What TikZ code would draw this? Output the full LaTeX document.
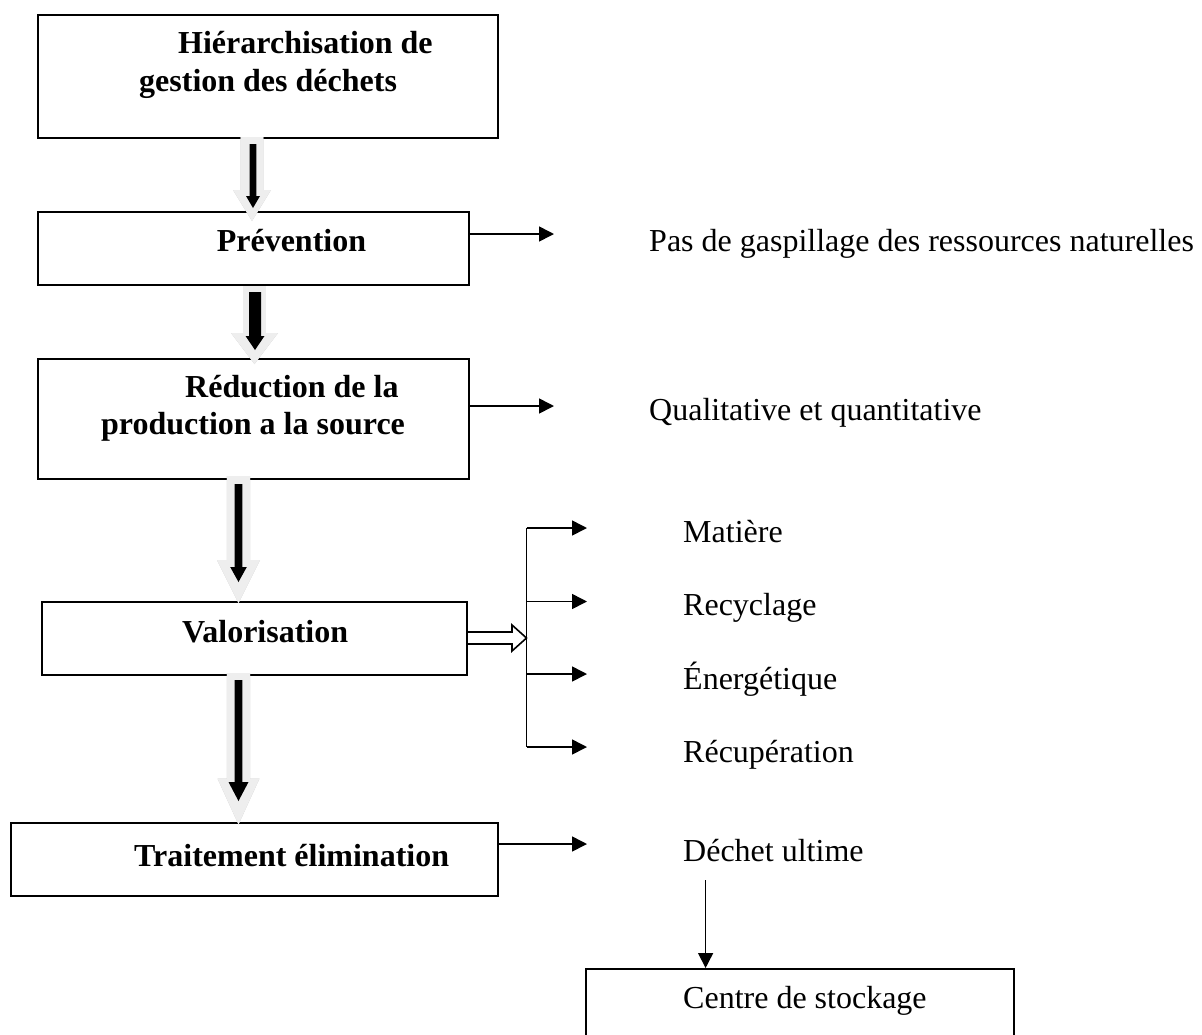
\documentclass[tikz,border=0pt]{standalone}
\usepackage{fontspec}
\setmainfont{Liberation Serif}
\usetikzlibrary{arrows.meta,calc}
\definecolor{lightblk}{HTML}{EEEEEE}
\definecolor{shadeblk}{HTML}{C4C4C4}
% #1 style, #2 top coord, #3 tip coord, #4 half shaft, #5 half head, #6 head length
\newcommand{\blkarrow}[6]{%
  \fill[#1] ($(#2)+(-#4,0)$) -- ($(#2)+(#4,0)$) -- ($(#3)+(#4,-#6)$) -- ($(#3)+(#5,-#6)$)
    -- (#3) -- ($(#3)+(-#5,-#6)$) -- ($(#3)+(-#4,-#6)$) -- cycle;}
\begin{document}
\begin{tikzpicture}[x=1pt,y=-1pt,
  box/.style={draw, line width=2pt, rectangle, anchor=north west, inner sep=0pt},
  lbl/.style={anchor=base west, inner sep=0pt, font=\fontsize{32}{38}\selectfont},
  blbl/.style={anchor=base west, inner sep=0pt, font=\fontsize{32}{38}\selectfont\bfseries},
  arr/.style={line width=1.6pt, -{Triangle[length=15pt,width=15pt]}},
  ln/.style={line width=1.6pt}]
\useasboundingbox (0,0) rectangle (1202,1034);
\clip (0,0) rectangle (1202,1034);

% boxes
\node[box, minimum width=460pt, minimum height=123pt] (b1) at (37,14) {};
\node[box, minimum width=431pt, minimum height=73pt] (b2) at (37,211) {};
\node[box, minimum width=431pt, minimum height=120pt] (b3) at (37,358) {};
\node[box, minimum width=425.4pt, minimum height=73pt] (b4) at (40.6,601) {};
\node[box, minimum width=486.7pt, minimum height=73pt] (b5) at (10.3,821.5) {};
\node[box, minimum width=428pt, minimum height=110pt] (c6) at (585,968) {};

% box texts
\node[blbl] (t1a) at (178,53.5) {Hiérarchisation de};
\node[blbl] (t1b) at (139,91) {gestion des déchets};
\node[blbl] (t2) at (216.6,251) {Prévention};
\node[blbl] (t3a) at (185,397) {Réduction de la};
\node[blbl] (t3b) at (101,434) {production a la source};
\node[blbl] (t4) at (182,642) {Valorisation};
\node[blbl] (t5) at (134,866) {Traitement élimination};

% right texts
\node[lbl] (r1) at (649,251) {Pas de gaspillage des ressources naturelles};
\node[lbl] (r2) at (649,420) {Qualitative et quantitative};
\node[lbl] (m1) at (683,542) {Matière};
\node[lbl] (m2) at (683,615.5) {Recyclage};
\node[lbl] (m3) at (683,689) {Énergétique};
\node[lbl] (m4) at (683,762.5) {Récupération};
\node[lbl] (du) at (683,861) {Déchet ultime};
\node[lbl] (cs) at (683,1008) {Centre de stockage};

% block arrows between boxes
\coordinate (ax1) at (252,0);
\coordinate (g1t) at ($(ax1 |- b1.south)+(0,-2)$);
\coordinate (g1e) at ($(ax1 |- b2.north)+(0,10)$);
\coordinate (k1t) at ($(ax1 |- b1.south)+(1,5)$);
\coordinate (k1e) at ($(ax1 |- b2.north)+(1,-3)$);
\blkarrow{shadeblk, shift={(3,3)}}{g1t}{g1e}{11.3}{19}{31}
\blkarrow{lightblk}{g1t}{g1e}{11.3}{19}{31}
\blkarrow{black}{k1t}{k1e}{3.4}{7}{12}

\coordinate (ax2) at (254.5,0);
\coordinate (g2t) at (ax2 |- b2.south);
\coordinate (g2e) at ($(ax2 |- b3.north)+(0,6)$);
\coordinate (k2t) at ($(ax2 |- b2.south)+(0.5,6)$);
\coordinate (k2e) at ($(ax2 |- b3.north)+(0.5,-8)$);
\blkarrow{shadeblk, shift={(3,3)}}{g2t}{g2e}{11.3}{23.5}{31}
\blkarrow{lightblk}{g2t}{g2e}{11.3}{23.5}{31}
\blkarrow{black}{k2t}{k2e}{6}{9.5}{14}

\coordinate (ax3) at (238.5,0);
\coordinate (g3t) at ($(ax3 |- b3.south)+(0,-4)$);
\coordinate (g3e) at ($(ax3 |- b4.north)+(0,2)$);
\coordinate (k3t) at ($(ax3 |- b3.south)+(0,4)$);
\coordinate (k3e) at ($(ax3 |- b4.north)+(0,-19)$);
\blkarrow{shadeblk, shift={(3,3)}}{g3t}{g3e}{11.7}{21.5}{43}
\blkarrow{lightblk}{g3t}{g3e}{11.7}{21.5}{43}
\blkarrow{black}{k3t}{k3e}{3.9}{8.3}{15}

\coordinate (g4t) at ($(ax3 |- b4.south)+(0,-3)$);
\coordinate (g4e) at ($(ax3 |- b5.north)+(0,3)$);
\coordinate (k4t) at ($(ax3 |- b4.south)+(0,4)$);
\coordinate (k4e) at ($(ax3 |- b5.north)+(0,-20.5)$);
\blkarrow{shadeblk, shift={(3,3)}}{g4t}{g4e}{11.7}{21}{46}
\blkarrow{lightblk}{g4t}{g4e}{11.7}{21}{46}
\blkarrow{black}{k4t}{k4e}{3.9}{10}{19}

% side arrows
\coordinate (p1) at (554,234);
\coordinate (p2) at (554,406);
\draw[arr] (b2.east |- p1) -- (p1);
\draw[arr] (b3.east |- p2) -- (p2);

% hollow arrow and bracket
\coordinate (br) at (526.5,638);
\coordinate (brt) at (526.5,528);
\coordinate (brb) at (526.5,747);
\draw[ln, fill=white] ($(b4.east |- br)+(0,-6)$) -- ($(br)+(-14.5,-6)$) -- ($(br)+(-14.5,-13)$)
  -- (br) -- ($(br)+(-14.5,13)$) -- ($(br)+(-14.5,6)$) -- ($(b4.east |- br)+(0,6)$);
\draw[ln] (brt) -- (brb);
\coordinate (q1) at (587,528);
\coordinate (q2) at (587,601.5);
\coordinate (q3) at (587,674);
\coordinate (q4) at (587,747);
\draw[arr] (brt) -- (q1);
\draw[arr] (br |- q2) -- (q2);
\draw[arr] (br |- q3) -- (q3);
\draw[arr] (brb) -- (q4);

% treatment arrow
\coordinate (q5) at (587,844);
\draw[arr] (b5.east |- q5) -- (q5);

% down arrow to storage
\coordinate (dtop) at (705.6,880);
\draw[arr] (dtop) -- (dtop |- c6.north);
\end{tikzpicture}
\end{document}
